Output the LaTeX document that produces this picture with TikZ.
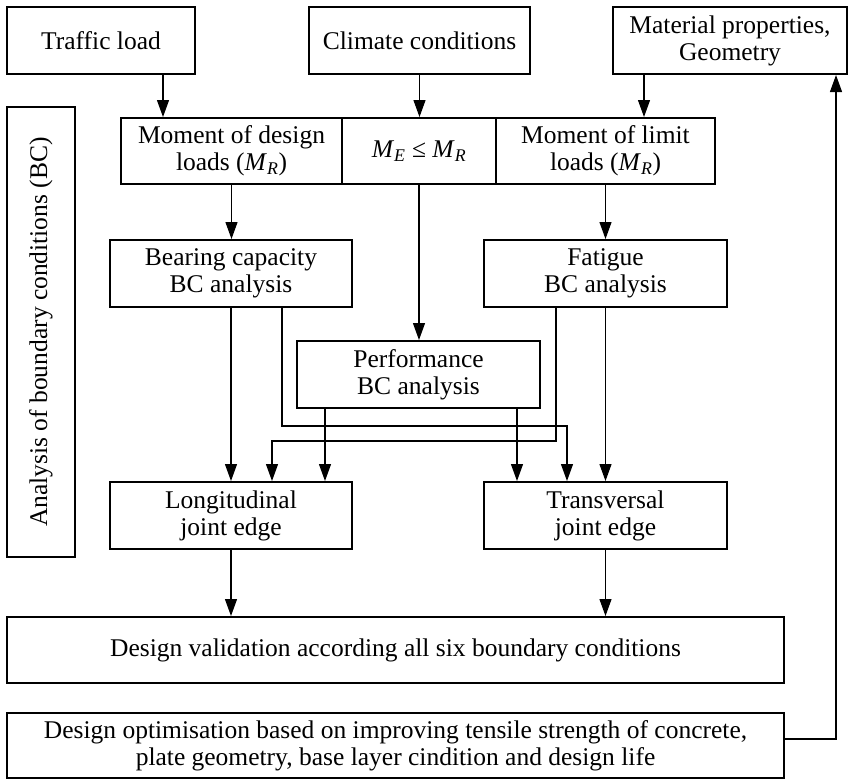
\documentclass[tikz,border=0pt]{standalone}
\usepackage{fontspec}
\setmainfont{Liberation Serif}
\usetikzlibrary{arrows.meta}
\newcommand{\moment}[1]{\textit{M}\textsubscript{\textit{#1}}}

\begin{document}
\begin{tikzpicture}[x=1pt,y=-1pt,
  font=\fontsize{25.5}{27}\selectfont,
  box/.style={draw, line width=2pt, align=center, inner sep=0pt},
  arr/.style={line width=1.2pt, -{Triangle[length=17pt,width=12pt]}}]
  \useasboundingbox (0,0) rectangle (849,779);

  % Inputs
  \node[box, minimum width=188pt, minimum height=67pt] (traffic) at (101,40.5) {Traffic load};
  \node[box, minimum width=221pt, minimum height=67pt] (climate) at (419.5,40.5) {Climate conditions};
  \node[box, minimum width=234pt, minimum height=67pt] (material) at (730,40.5) {Material properties,\\Geometry};

  % Side label
  \node[box, rotate=90, minimum width=450pt, minimum height=68pt] (side) at (41,332) {Analysis of boundary conditions (BC)};

  % Moments
  \node[box, minimum width=221pt, minimum height=66pt] (mdes) at (231.5,151) {Moment of design\\loads (\moment{R})};
  \node[box, minimum width=154pt, minimum height=66pt] (mcmp) at (419,151) {\moment{E} ≤ \moment{R}};
  \node[box, minimum width=219pt, minimum height=66pt] (mlim) at (605.5,151) {Moment of limit\\loads (\moment{R})};

  % BC analyses
  \node[box, minimum width=242pt, minimum height=67pt] (bear) at (231,273.5) {Bearing capacity\\BC analysis};
  \node[box, minimum width=243pt, minimum height=67pt] (fat) at (605.5,273.5) {Fatigue\\BC analysis};
  \node[box, minimum width=243pt, minimum height=67pt] (perf) at (418.5,374.5) {Performance\\BC analysis};

  % Joint edges
  \node[box, minimum width=242pt, minimum height=67pt] (longi) at (231,515.5) {Longitudinal\\joint edge};
  \node[box, minimum width=243pt, minimum height=67pt] (trans) at (605.5,515.5) {Transversal\\joint edge};

  % Validation and optimisation
  \node[box, minimum width=777pt, minimum height=66pt] (valid) at (395.5,650) {Design validation according all six boundary conditions};
  \node[box, minimum width=777pt, minimum height=65pt] (optim) at (395.5,745.5) {Design optimisation based on improving tensile strength of concrete,\\plate geometry, base layer cindition and design life};

  % Inputs to moments
  \draw[arr] ([xshift=62pt]traffic.south) -- ([xshift=62pt]traffic.south |- mdes.north);
  \draw[arr] (climate.south) -- (climate.south |- mcmp.north);
  \draw[arr] ([xshift=-86pt]material.south) -- ([xshift=-86pt]material.south |- mlim.north);

  % Moments to analyses
  \draw[arr] (mdes.south) -- (mdes.south |- bear.north);
  \draw[arr] (mcmp.south) -- (mcmp.south |- perf.north);
  \draw[arr] (mlim.south) -- (mlim.south |- fat.north);

  % Analyses to joint edges
  \draw[arr] (bear.south) -- (bear.south |- longi.north);
  \draw[arr] ([xshift=51pt]bear.south) -- ++(0,118) -| ([xshift=-38.5pt]trans.north);
  \draw[arr] ([xshift=-49.5pt]fat.south) -- ++(0,133) -| ([xshift=41pt]longi.north);
  \draw[arr] ([xshift=-93.5pt]perf.south) -- ([xshift=-93.5pt]perf.south |- longi.north);
  \draw[arr] ([xshift=98.5pt]perf.south) -- ([xshift=98.5pt]perf.south |- trans.north);
  \draw[arr] (fat.south) -- (fat.south |- trans.north);

  % Joint edges to validation
  \draw[arr] (longi.south) -- (longi.south |- valid.north);
  \draw[arr] (trans.south) -- (trans.south |- valid.north);

  % Feedback
  \coordinate (fb) at (836,739);
  \draw[arr] (optim.east |- fb) -- (fb) -- (fb |- material.south);
\end{tikzpicture}
\end{document}
